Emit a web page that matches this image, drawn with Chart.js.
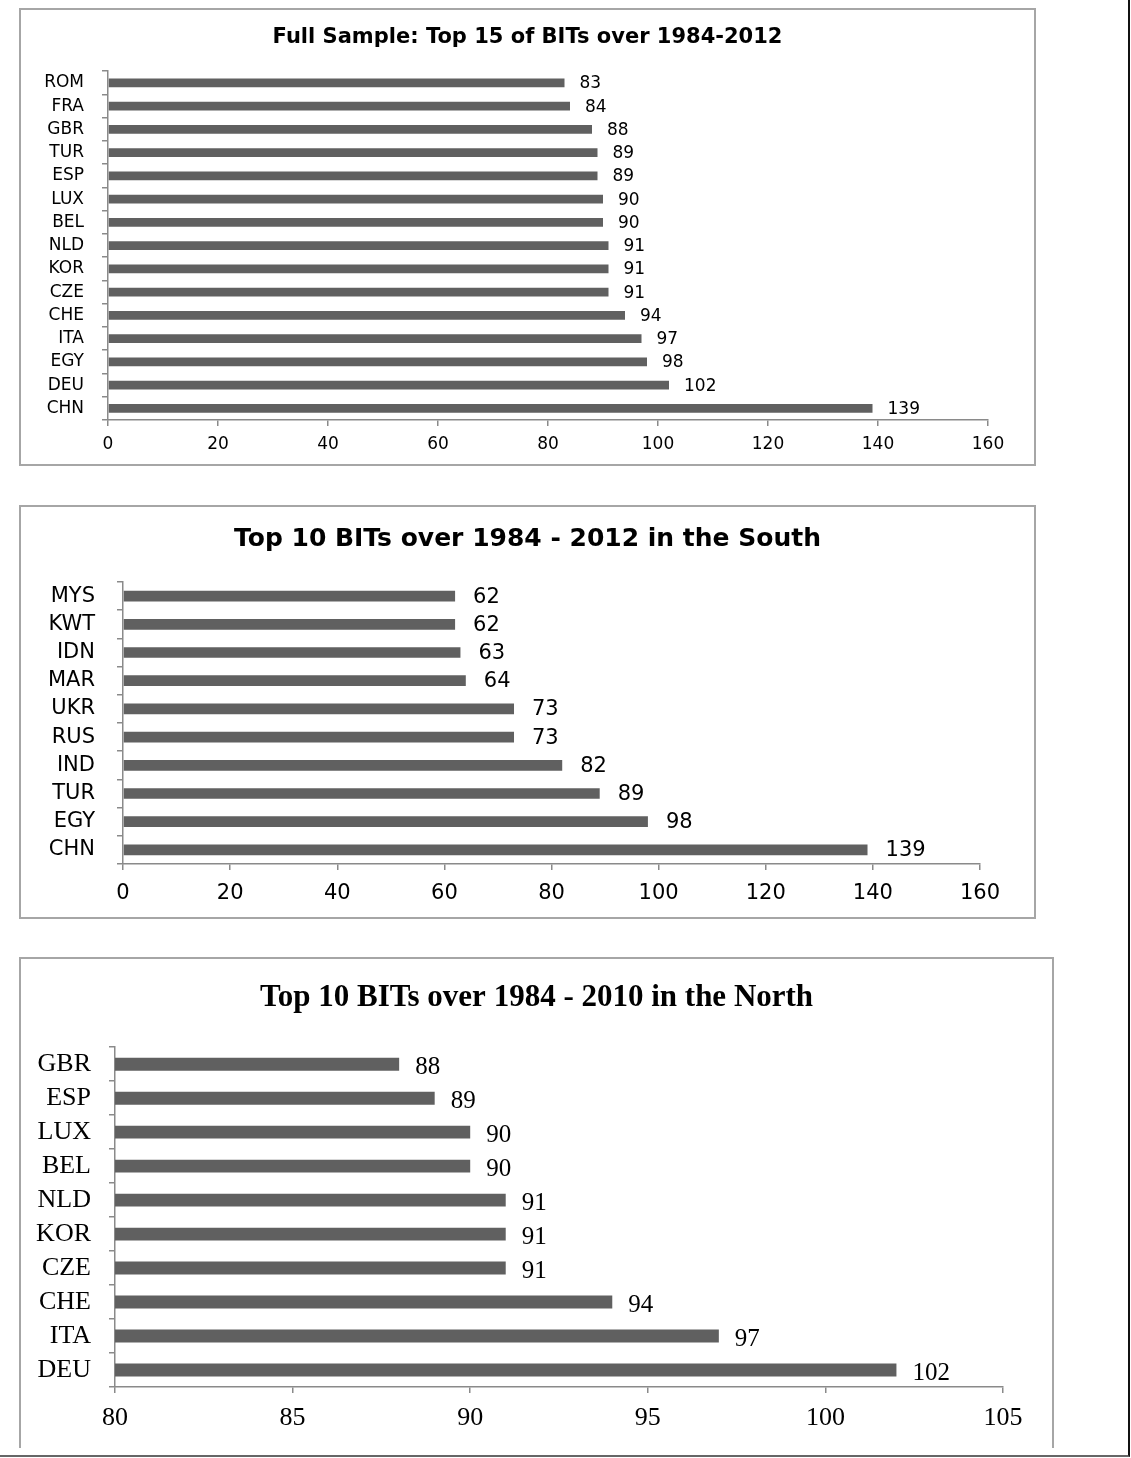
<!DOCTYPE html>
<html>
<head>
<meta charset="utf-8">
<title>Top BITs partners</title>
<script src="https://cdn.jsdelivr.net/npm/chart.js@4.4.1/dist/chart.umd.min.js"></script>
<style>
  html, body { margin: 0; padding: 0; background: #fff; }
  body { width: 1131px; height: 1458px; position: relative; overflow: hidden; }
  .page { position: absolute; left: 0; top: 0; width: 1128px; height: 1455px; border-right: 2px solid #111; border-bottom: 2px solid #666; }
  .panel { position: absolute; border: 2px solid #a6a6a6; box-sizing: border-box; background: #fff; }
  .panel canvas { position: absolute; left: 0; top: 0; }
</style>
</head>
<body>
<div class="page"></div>
<div class="panel" style="left:19px;top:8px;width:1017px;height:458px"><canvas id="fullChart" width="1013" height="454"></canvas></div>
<div class="panel" style="left:19px;top:505px;width:1017px;height:414px"><canvas id="southChart" width="1013" height="410"></canvas></div>
<div class="panel" style="left:19px;top:957px;width:1035px;height:491px;border-bottom:none"><canvas id="northChart" width="1031" height="489"></canvas></div>

<script>
// full sample, top to bottom as shown
const fullLabels = ["ROM","FRA","GBR","TUR","ESP","LUX","BEL","NLD","KOR","CZE","CHE","ITA","EGY","DEU","CHN"];
const fullValues = [83, 84, 88, 89, 89, 90, 90, 91, 91, 91, 94, 97, 98, 102, 139];
const fullTicks = [0, 20, 40, 60, 80, 100, 120, 140, 160];

// south
const southLabels = ["MYS","KWT","IDN","MAR","UKR","RUS","IND","TUR","EGY","CHN"];
const southValues = [62, 62, 63, 64, 73, 73, 82, 89, 98, 139];
const southTicks = [0, 20, 40, 60, 80, 100, 120, 140, 160];

// north
const northLabels = ["GBR","ESP","LUX","BEL","NLD","KOR","CZE","CHE","ITA","DEU"];
const northValues = [88, 89, 90, 90, 91, 91, 91, 94, 97, 102];
const northTicks = [80, 85, 90, 95, 100, 105];

const AXIS_GREY = '#8a8a8a';
const BAR_GREY = '#606060';

// draws the number right of each bar (Excel style data labels)
const valueLabels = {
  id: 'valueLabels',
  afterDatasetsDraw(chart, args, opts) {
    const ctx = chart.ctx;
    const meta = chart.getDatasetMeta(0);
    const data = chart.data.datasets[0].data;
    ctx.save();
    ctx.font = opts.font;
    ctx.fillStyle = '#000';
    ctx.textAlign = 'left';
    ctx.textBaseline = 'middle';
    meta.data.forEach((bar, i) => {
      ctx.fillText(String(data[i]), bar.x + opts.gap, bar.y + opts.dy);
    });
    ctx.restore();
  }
};

function makeChart(id, labels, values, ticks, c) {
  const ctx = document.getElementById(id).getContext('2d');
  const step = ticks[1] - ticks[0];
  return new Chart(ctx, {
    type: 'bar',
    data: {
      labels,
      datasets: [{
        data: values,
        backgroundColor: BAR_GREY,
        borderWidth: 0,
        barPercentage: 0.38,
        categoryPercentage: 1
      }]
    },
    options: {
      indexAxis: 'y',
      responsive: false,
      animation: false,
      layout: { padding: 0 },
      scales: {
        x: {
          min: ticks[0],
          max: ticks[ticks.length - 1],
          ticks: { stepSize: step, color: '#000', font: c.tickFont, padding: c.xPad, maxRotation: 0, autoSkip: false },
          grid: { drawOnChartArea: false, drawTicks: true, tickLength: 6, color: AXIS_GREY, lineWidth: 1.5 },
          border: { display: true, color: AXIS_GREY, width: 1.5 },
          afterFit(s) { s.height = c.xHeight; }
        },
        y: {
          ticks: { color: '#000', font: c.tickFont, padding: c.yPad, autoSkip: false },
          grid: { drawOnChartArea: false, drawTicks: true, tickLength: 6, color: AXIS_GREY, lineWidth: 1.5 },
          border: { display: true, color: AXIS_GREY, width: 1.5 },
          afterFit(s) { s.width = c.yWidth; }
        },
        // empty right-hand strip so the plot sits where the original has it
        y2: {
          type: 'category',
          position: 'right',
          grid: { display: false },
          ticks: { display: false },
          border: { display: false },
          afterFit(s) { s.width = c.rightGap; }
        }
      },
      plugins: {
        legend: { display: false },
        tooltip: { enabled: false },
        title: {
          display: true,
          text: c.title,
          color: '#000',
          font: c.titleFont,
          padding: { top: c.titleTop, bottom: c.titleBottom }
        },
        valueLabels: { font: c.valueFont, gap: c.gap, dy: c.dy }
      }
    },
    plugins: [valueLabels]
  });
}

window.addEventListener('load', () => {
  makeChart('fullChart', fullLabels, fullValues, fullTicks, {
    title: 'Full Sample: Top 15 of BITs over 1984-2012',
    titleFont: { family: 'DejaVu Sans', size: 21, weight: 'bold' },
    titleTop: 15, titleBottom: 21,
    tickFont: { family: 'DejaVu Sans', size: 17 },
    valueFont: '17px "DejaVu Sans"',
    yWidth: 87, rightGap: 46, xHeight: 44, xPad: 8, yPad: 18,
    gap: 15, dy: 1
  });

  makeChart('southChart', southLabels, southValues, southTicks, {
    title: 'Top 10 BITs over 1984 - 2012 in the South',
    titleFont: { family: 'DejaVu Sans', size: 25, weight: 'bold' },
    titleTop: 17, titleBottom: 28,
    tickFont: { family: 'DejaVu Sans', size: 21 },
    valueFont: '21px "DejaVu Sans"',
    yWidth: 102, rightGap: 54, xHeight: 53, xPad: 11, yPad: 22,
    gap: 18, dy: 1
  });

  makeChart('northChart', northLabels, northValues, northTicks, {
    title: 'Top 10 BITs over 1984 - 2010 in the North',
    titleFont: { family: 'Liberation Serif', size: 31, weight: 'bold' },
    titleTop: 20, titleBottom: 31,
    tickFont: { family: 'Liberation Serif', size: 26 },
    valueFont: '25px "Liberation Serif"',
    yWidth: 94, rightGap: 49, xHeight: 61, xPad: 10, yPad: 18,
    gap: 16, dy: 3
  });
});
</script>
</body>
</html>
